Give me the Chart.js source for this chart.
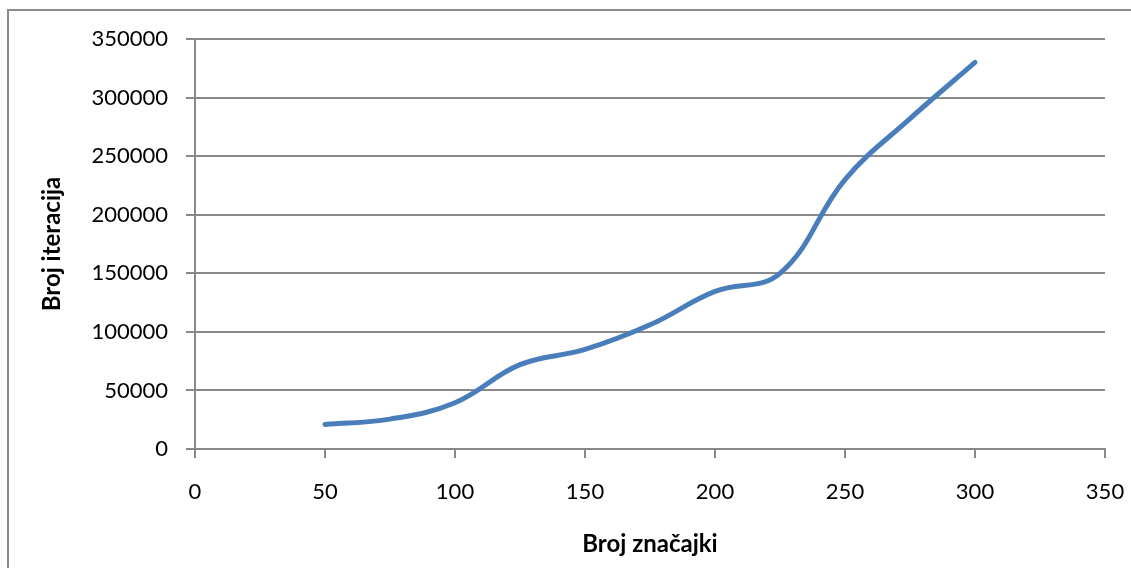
<!DOCTYPE html>
<html>
<head>
<meta charset="utf-8">
<script src="https://cdn.jsdelivr.net/npm/chart.js@4/dist/chart.umd.min.js"></script>
<style>
  html, body { margin: 0; padding: 0; background: #ffffff; }
  #wrap { width: 1131px; height: 568px; position: relative; }
</style>
</head>
<body>
<div id="wrap"><canvas id="chart" width="1131" height="568"></canvas></div>
<script>
// Number of features vs. number of iterations
const featureCounts = [50, 75, 100, 125, 150, 175, 200, 225, 250, 275, 300];
const iterationCounts = [21000, 25500, 39500, 72000, 85000, 106000, 134500, 150000, 230000, 282000, 330000];
const xTicks = [0, 50, 100, 150, 200, 250, 300, 350];
const yTicks = [0, 50000, 100000, 150000, 200000, 250000, 300000, 350000];
const xTitle = 'Broj značajki';
const yTitle = 'Broj iteracija';

const points = featureCounts.map((x, i) => ({ x: x, y: iterationCounts[i] }));

const FONT = 'Lato, "Liberation Sans", sans-serif';
const GRID = '#8a8a8a';

// light frame around the chart object
const framePlugin = {
  id: 'frame',
  beforeDraw(chart) {
    const ctx = chart.ctx;
    ctx.save();
    ctx.fillStyle = '#ffffff';
    ctx.fillRect(0, 0, chart.width, chart.height);
    ctx.strokeStyle = '#8c8c8c';
    ctx.lineWidth = 2;
    ctx.strokeRect(8, 10, 3000, 3000);
    ctx.restore();
  }
};

new Chart(document.getElementById('chart'), {
  type: 'line',
  data: {
    datasets: [{
      data: points,
      borderColor: '#4a7ebb',
      borderWidth: 5,
      pointRadius: 0,
      tension: 0.4,
      fill: false,
      borderCapStyle: 'round'
    }]
  },
  options: {
    responsive: false,
    animation: false,
    layout: { padding: { top: 39, right: 26, left: 0, bottom: 0 } },
    plugins: { legend: { display: false }, tooltip: { enabled: false } },
    scales: {
      x: {
        type: 'linear',
        min: 0, max: 350,
        afterBuildTicks(scale) { scale.ticks = xTicks.map(v => ({ value: v })); },
        afterFit(scale) {
          scale.height = 119;
          scale.paddingLeft = 0;
          scale.paddingRight = 0;
        },
        grid: { drawOnChartArea: false, drawTicks: true, tickLength: 9, color: GRID, lineWidth: 2 },
        border: { color: GRID, width: 2 },
        ticks: { color: '#000', font: { family: FONT, size: 22 }, padding: 21, maxRotation: 0 },
        title: { display: true, text: xTitle, color: '#000',
                 font: { family: FONT, size: 24, weight: 'bold' }, padding: { top: 0, bottom: 9 } }
      },
      y: {
        type: 'linear',
        min: 0, max: 350000,
        afterBuildTicks(scale) { scale.ticks = yTicks.map(v => ({ value: v })); },
        afterFit(scale) { scale.width = 195; },
        grid: { drawTicks: true, tickLength: 9, color: GRID, lineWidth: 2 },
        border: { color: GRID, width: 2 },
        ticks: { color: '#000', font: { family: FONT, size: 22 }, padding: 18,
                 callback: v => String(v) },
        title: { display: true, text: yTitle, color: '#000',
                 font: { family: FONT, size: 24, weight: 'bold' }, padding: { top: 38, bottom: 0 } }
      }
    }
  },
  plugins: [framePlugin]
});
</script>
</body>
</html>
